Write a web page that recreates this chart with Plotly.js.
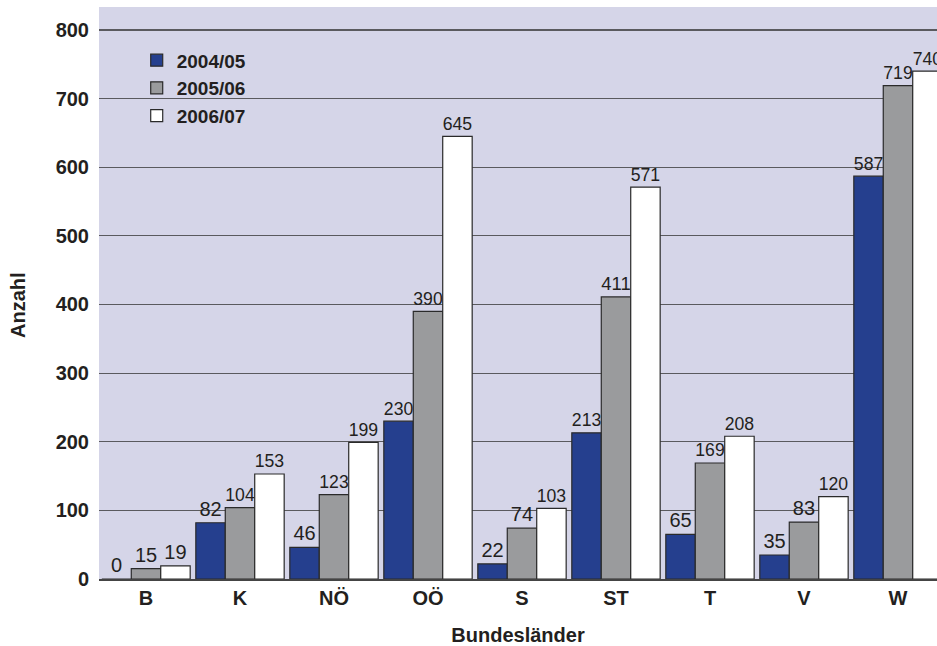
<!DOCTYPE html>
<html><head><meta charset="utf-8">
<script src="https://cdn.plot.ly/plotly-3.0.1.min.js"></script>
<style>html,body{margin:0;padding:0;background:#fff;}#chart{width:937px;height:646px;}</style>
</head><body><div id="chart"></div>
<script>
const categories = ["B","K","NÖ","OÖ","S","ST","T","V","W"];
const seriesNames = ["2004/05","2005/06","2006/07"];
const values0405 = [0,82,46,230,22,213,65,35,587];
const values0506 = [15,104,123,390,74,411,169,83,719];
const values0607 = [19,153,199,645,103,571,208,120,740];
const colors = ["#253f8e","#9a9b9d","#ffffff"];
const allValues = [values0405, values0506, values0607];

const traces = allValues.map((v,i)=>({
  type:"bar", name:seriesNames[i], x:categories, y:v,
  marker:{color:colors[i], line:{color:"#2a2a2a", width:1.2}},
  text:v.map(String), textposition:"outside", cliponaxis:false,
  textfont:{family:"Liberation Sans Narrow, Arial Narrow, Liberation Sans, sans-serif", size:20, color:"#231f20"},
  hoverinfo:"none"
}));

const layout = {
  width:937, height:646,
  margin:{l:99, r:0, t:7, b:67},
  paper_bgcolor:"#ffffff", plot_bgcolor:"#d5d5e8",
  barmode:"group", bargap:0.06, bargroupgap:0,
  font:{family:"Liberation Sans, Arial, sans-serif", color:"#231f20"},
  showlegend:true,
  legend:{x:0.045, y:0.94, xanchor:"left", yanchor:"top", bgcolor:"rgba(0,0,0,0)",
    font:{size:19, weight:"bold", color:"#231f20"}, tracegroupgap:0, itemwidth:30},
  xaxis:{range:[-0.5, 8.415], showgrid:false, ticks:"", showline:true, linecolor:"#444", linewidth:1.5,
    tickfont:{size:20, weight:"bold"}, zeroline:false,
    title:{text:"Bundesländer", font:{size:20, weight:"bold"}, standoff:20}},
  yaxis:{range:[0,833.5], tickvals:[0,100,200,300,400,500,600,700,800], showgrid:true, gridcolor:"#5a5a5e", gridwidth:1.2,
    zeroline:false, ticks:"", tickfont:{size:20, weight:"bold"}, ticklabelstandoff:9},
  annotations:[{text:"Anzahl", xref:"paper", yref:"paper", x:(18-99)/838, y:1-(305-7)/572,
    xanchor:"center", yanchor:"middle", textangle:-90, showarrow:false,
    font:{size:20, weight:"bold", color:"#231f20"}}]
};
Plotly.newPlot("chart", traces, layout, {displayModeBar:false, staticPlot:true});
</script></body></html>
